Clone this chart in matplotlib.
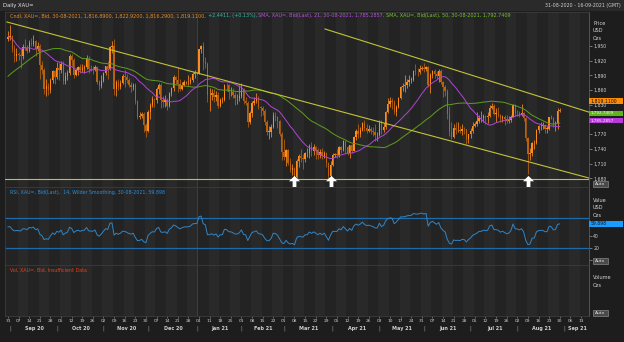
import numpy as np
import pandas as pd
import matplotlib
matplotlib.use("Agg")
import matplotlib.pyplot as plt
from matplotlib.path import Path
from matplotlib.patches import Rectangle
from matplotlib.transforms import blended_transform_factory

plt.rcParams['font.family'] = ['DejaVu Sans']

# ---------------- data: XAU= daily bid, 31-08-2020 .. 30-08-2021 ----------------
# closes before the first drawn bar (15-06-2020 .. 28-08-2020), used by the indicators
prior_closes = [1726, 1727, 1727, 1722, 1743, 1754, 1768, 1762, 1762, 1771,
                1772, 1781, 1770, 1775, 1772, 1784, 1795, 1809, 1803, 1799,
                1802, 1810, 1807, 1796, 1810, 1818, 1842, 1871, 1888, 1902,
                1942, 1958, 1970, 1957, 1975, 1976, 2019, 2038, 2062, 2035,
                2028, 1912, 1915, 1954, 1944, 1985, 2001, 1928, 1946, 1940,
                1928, 1908, 1953, 1929, 1964]

opens = [
    1964, 1968, 1970, 1944, 1930, 1934, 1931, 1930, 1947, 1946, 1940, 1957, 1954, 1960, 1944, 1950, 1912, 1900, 1863, 1868, 1861, 1881, 1898,
    1886, 1906, 1900, 1914, 1878, 1888, 1894, 1930, 1922, 1891, 1902, 1908, 1900, 1905, 1907, 1924, 1904, 1902, 1901, 1908, 1877, 1868,
    1879, 1894, 1909, 1904, 1948, 1951, 1862, 1877, 1866, 1874, 1889, 1887, 1880, 1871, 1866, 1871, 1838, 1805, 1807, 1812, 1788,
    1777, 1816, 1830, 1841, 1839, 1863, 1871, 1839, 1836, 1840, 1828, 1854, 1864, 1886, 1881, 1872, 1863, 1871, 1876, 1876, 1877, 1881, 1893,
    1895, 1895, 1943, 1950, 1918, 1913, 1849, 1850, 1855, 1845, 1851, 1828, 1840, 1840, 1871, 1870, 1856, 1856, 1850, 1843, 1843,
    1848, 1861, 1837, 1834, 1794, 1814, 1834, 1838, 1843, 1826, 1824, 1818, 1794, 1775, 1775, 1784, 1808, 1806, 1796, 1770,
    1734, 1723, 1738, 1712, 1697, 1700, 1683, 1716, 1726, 1722, 1719, 1731, 1731, 1745, 1736, 1744, 1737, 1727, 1734, 1725, 1732, 1712, 1684,
    1708, 1728, 1729, 1728, 1743, 1737, 1756, 1744, 1732, 1747, 1736, 1764, 1777, 1771, 1779, 1793, 1783, 1777, 1780, 1777, 1774, 1768,
    1768, 1792, 1779, 1785, 1815, 1831, 1837, 1836, 1815, 1826, 1844, 1867, 1869, 1870, 1877, 1881, 1881, 1898, 1897, 1896, 1903,
    1905, 1903, 1908, 1871, 1891, 1899, 1893, 1888, 1898, 1877, 1866, 1859, 1812, 1774, 1764, 1783, 1778, 1779, 1776, 1781, 1780, 1761,
    1770, 1776, 1787, 1791, 1796, 1803, 1803, 1808, 1806, 1807, 1824, 1828, 1812, 1812, 1810, 1803, 1806, 1802, 1797, 1799, 1806, 1829,
    1814, 1813, 1810, 1814, 1804, 1763, 1729, 1731, 1752, 1753, 1779, 1786, 1787, 1787, 1781, 1781, 1805, 1803, 1790, 1792, 1816.89,
]
highs = [
    1980, 1992, 1972, 1953, 1946, 1937, 1944, 1955, 1965, 1952, 1963, 1966, 1973, 1962, 1959, 1954, 1920, 1905, 1882, 1875, 1885, 1901, 1902,
    1917, 1917, 1920, 1920, 1897, 1900, 1933, 1933, 1925, 1906, 1910, 1913, 1913, 1912, 1931, 1929, 1912, 1910, 1912, 1910, 1881, 1890,
    1897, 1910, 1919, 1951, 1960, 1965, 1880, 1882, 1880, 1892, 1900, 1893, 1884, 1876, 1875, 1875, 1840, 1815, 1816, 1815, 1793,
    1820, 1833, 1848, 1844, 1866, 1875, 1874, 1848, 1849, 1843, 1857, 1867, 1891, 1888, 1907, 1882, 1877, 1880, 1879, 1890, 1886, 1897, 1900,
    1897, 1944, 1953, 1959, 1927, 1917, 1865, 1863, 1862, 1859, 1856, 1843, 1845, 1873, 1875, 1872, 1867, 1865, 1856, 1852, 1870,
    1875, 1865, 1845, 1837, 1817, 1838, 1845, 1855, 1848, 1828, 1827, 1822, 1798, 1786, 1790, 1815, 1816, 1807, 1799, 1774,
    1760, 1740, 1739, 1721, 1710, 1703, 1719, 1729, 1739, 1730, 1734, 1741, 1749, 1755, 1749, 1746, 1741, 1739, 1741, 1736, 1734, 1713, 1716,
    1731, 1732, 1740, 1746, 1745, 1758, 1757, 1745, 1748, 1749, 1766, 1781, 1790, 1785, 1795, 1798, 1790, 1789, 1784, 1785, 1790, 1774,
    1798, 1799, 1792, 1818, 1843, 1845, 1844, 1839, 1829, 1846, 1869, 1874, 1890, 1882, 1890, 1887, 1900, 1913, 1905, 1912, 1909,
    1916, 1910, 1909, 1894, 1902, 1903, 1899, 1903, 1904, 1878, 1871, 1863, 1828, 1795, 1791, 1795, 1795, 1787, 1791, 1785, 1781, 1771,
    1782, 1795, 1795, 1815, 1809, 1818, 1812, 1809, 1816, 1829, 1834, 1831, 1823, 1825, 1812, 1810, 1809, 1809, 1807, 1810, 1832, 1831,
    1820, 1818, 1832, 1815, 1806, 1764, 1741, 1754, 1758, 1781, 1788, 1795, 1794, 1790, 1787, 1806, 1809, 1805, 1796, 1823, 1822.92,
]
lows = [
    1960, 1962, 1937, 1917, 1920, 1922, 1906, 1924, 1942, 1935, 1937, 1950, 1950, 1930, 1940, 1882, 1892, 1853, 1848, 1850, 1854, 1875, 1872,
    1882, 1880, 1895, 1873, 1873, 1881, 1891, 1910, 1885, 1888, 1890, 1895, 1897, 1895, 1904, 1895, 1898, 1893, 1898, 1872, 1860, 1865,
    1877, 1890, 1882, 1902, 1936, 1850, 1848, 1861, 1862, 1872, 1866, 1875, 1866, 1856, 1860, 1831, 1800, 1800, 1803, 1775, 1764,
    1774, 1802, 1826, 1826, 1834, 1853, 1823, 1826, 1825, 1820, 1826, 1848, 1859, 1872, 1857, 1858, 1860, 1868, 1873, 1870, 1872, 1876, 1885,
    1893, 1893, 1935, 1902, 1906, 1836, 1817, 1840, 1836, 1837, 1823, 1826, 1833, 1838, 1858, 1842, 1848, 1844, 1830, 1832, 1838,
    1843, 1831, 1830, 1785, 1791, 1805, 1830, 1834, 1822, 1808, 1810, 1789, 1769, 1760, 1764, 1782, 1796, 1782, 1767, 1717,
    1718, 1705, 1708, 1692, 1687, 1677, 1680, 1703, 1714, 1699, 1713, 1723, 1721, 1725, 1727, 1720, 1719, 1722, 1719, 1721, 1704, 1677, 1678,
    1705, 1723, 1721, 1723, 1731, 1735, 1731, 1727, 1722, 1731, 1735, 1759, 1762, 1765, 1776, 1777, 1772, 1775, 1770, 1766, 1756, 1757,
    1766, 1770, 1774, 1781, 1813, 1826, 1822, 1812, 1808, 1824, 1841, 1858, 1856, 1865, 1869, 1875, 1879, 1891, 1889, 1893, 1900,
    1897, 1898, 1867, 1855, 1885, 1885, 1882, 1877, 1872, 1845, 1848, 1802, 1767, 1761, 1762, 1771, 1774, 1773, 1768, 1770, 1750, 1751,
    1763, 1772, 1785, 1786, 1793, 1795, 1795, 1791, 1792, 1805, 1821, 1809, 1794, 1806, 1794, 1795, 1789, 1792, 1792, 1795, 1805, 1807,
    1807, 1805, 1808, 1796, 1757, 1688, 1717, 1725, 1740, 1749, 1772, 1779, 1780, 1772, 1773, 1779, 1801, 1785, 1776, 1781, 1816.29,
]
closes = [
    1968, 1970, 1944, 1930, 1934, 1931, 1930, 1947, 1946, 1940, 1957, 1954, 1960, 1944, 1950, 1912, 1900, 1863, 1868, 1861, 1881, 1898, 1886,
    1906, 1900, 1914, 1878, 1888, 1894, 1930, 1922, 1891, 1902, 1908, 1900, 1905, 1907, 1924, 1904, 1902, 1901, 1908, 1877, 1868, 1879,
    1894, 1909, 1904, 1948, 1951, 1862, 1877, 1866, 1874, 1889, 1887, 1880, 1871, 1866, 1871, 1838, 1805, 1807, 1812, 1788, 1777,
    1816, 1830, 1841, 1839, 1863, 1871, 1839, 1836, 1840, 1828, 1854, 1864, 1886, 1881, 1872, 1863, 1871, 1876, 1876, 1877, 1881, 1893, 1895,
    1895, 1943, 1950, 1918, 1913, 1849, 1850, 1855, 1845, 1851, 1828, 1840, 1840, 1871, 1870, 1856, 1856, 1850, 1843, 1843, 1848,
    1861, 1837, 1834, 1794, 1814, 1834, 1838, 1843, 1826, 1824, 1818, 1794, 1775, 1775, 1784, 1808, 1806, 1796, 1770, 1734,
    1723, 1738, 1712, 1697, 1700, 1683, 1716, 1726, 1722, 1719, 1731, 1731, 1745, 1736, 1744, 1737, 1727, 1734, 1725, 1732, 1712, 1684, 1708,
    1728, 1729, 1728, 1743, 1737, 1756, 1744, 1732, 1747, 1736, 1764, 1777, 1771, 1779, 1793, 1783, 1777, 1780, 1777, 1774, 1768, 1768,
    1792, 1779, 1785, 1815, 1831, 1837, 1836, 1815, 1826, 1844, 1867, 1869, 1870, 1877, 1881, 1881, 1898, 1897, 1896, 1903, 1905,
    1903, 1908, 1871, 1891, 1899, 1893, 1888, 1898, 1877, 1866, 1859, 1812, 1774, 1764, 1783, 1778, 1779, 1776, 1781, 1780, 1761, 1770,
    1776, 1787, 1791, 1796, 1803, 1803, 1808, 1806, 1807, 1824, 1828, 1812, 1812, 1810, 1803, 1806, 1802, 1797, 1799, 1806, 1829, 1814,
    1813, 1810, 1814, 1804, 1763, 1729, 1731, 1752, 1753, 1779, 1786, 1787, 1787, 1781, 1781, 1805, 1803, 1790, 1792, 1817, 1819.11,
]

# trend lines drawn on the price pane: (bar index, price) end points
trend_upper = ([149.4, 273.8], [1984.7, 1815.0])
trend_lower = ([-0.5, 273.8], [1999.0, 1680.5])
support_level = 1678.6
arrow_days = ['2021-03-08', '2021-03-31', '2021-08-09']

price_ticks = [1680, 1710, 1740, 1770, 1800, 1830, 1860, 1890, 1920, 1950]
rsi_bands = [20, 70]
rsi_value_label = '59.898'

header_parts = [
    ('Cndl, XAU=, Bid, 30-08-2021, 1,816.8900, 1,822.9200, 1,816.2900, 1,819.1100,', '#ec8a22'),
    ('+2.4411, (+0.13%),', '#2cbfa8'),
    ('SMA, XAU=, Bid(Last), 21, 30-08-2021, 1,785.2857,', '#b84ee0'),
    ('SMA, XAU=, Bid(Last), 50, 30-08-2021, 1,792.7409', '#72c323'),
]

# ---------------- style ----------------
BG = '#1d1d1d'
PANEL = '#232323'
STRIPE = '#292929'
EDGE = '#3c3c3c'
TXT = '#cfcfcf'
UP = '#ff8c1a'
DN = '#b8620f'
SMA21_C = '#b044d8'
SMA50_C = '#5e9e1c'
TREND_C = '#c2c236'
RSI_C = '#2f86c8'
BAND_C = '#1f6aa8'

W, H = 624, 342
fig = plt.figure(figsize=(W / 100, H / 100), dpi=100, facecolor=BG)


def fx(px):
    return px / W


def fy(py):
    return 1 - py / H


LEFT, RIGHT = 5, 589
PX_PER_BAR = 2.122
X0 = (LEFT - 8) / PX_PER_BAR
X1 = (RIGHT - 8) / PX_PER_BAR

dates = pd.bdate_range('2020-08-31', '2021-09-17')
n = len(closes)
xs = np.arange(n)
mondays = [i for i, d in enumerate(dates) if d.weekday() == 0 and i <= X1]
jan1 = int(np.where(dates == pd.Timestamp('2021-01-01'))[0][0])


def add_panel(top, bottom):
    ax = fig.add_axes([fx(LEFT), fy(bottom), (RIGHT - LEFT) / W, (bottom - top) / H])
    ax.set_facecolor(PANEL)
    for s in ax.spines.values():
        s.set_color(EDGE)
        s.set_linewidth(0.6)
    ax.spines['right'].set_color('#5a5a5a')
    ax.set_xlim(X0, X1)
    for k, m in enumerate(mondays):
        if k % 2 == 1:
            ax.axvspan(m - 0.5, m + 4.5, color=STRIPE, lw=0, zorder=0)
    ax.axvline(jan1, color='#3e3e3e', lw=0.7, zorder=0.5)
    ax.tick_params(axis='x', length=0, labelbottom=False)
    return ax


ax_p = add_panel(12, 187)
ax_r = add_panel(187, 265)
ax_v = add_panel(265, 316)

# ---------------- price pane ----------------
o = np.array(opens, float)
h = np.array(highs, float)
l = np.array(lows, float)
c = np.array(closes, float)
up = c >= o
cols = np.where(up, UP, DN)
ax_p.vlines(xs, l, h, colors=cols, lw=0.55, zorder=2)
ax_p.bar(xs, np.maximum(np.abs(c - o), 0.8), bottom=np.minimum(o, c), width=0.62,
         color=cols, lw=0, zorder=2)

full = pd.Series(prior_closes + closes, dtype=float)
k0 = len(prior_closes)
sma21 = full.rolling(21).mean().iloc[k0:].to_numpy()
sma50 = full.rolling(50).mean().iloc[k0:].to_numpy()
ax_p.plot(xs, sma50, color=SMA50_C, lw=0.7, zorder=3)
ax_p.plot(xs, sma21, color=SMA21_C, lw=0.7, zorder=3)

ax_p.plot(*trend_upper, color=TREND_C, lw=0.8, zorder=4)
ax_p.plot(*trend_lower, color=TREND_C, lw=0.8, zorder=4)
ax_p.axhline(support_level, color=TREND_C, lw=0.8, zorder=4)

ax_p.set_ylim(1662.2, 2019.4)
ax_p.yaxis.tick_right()
ax_p.set_yticks(price_ticks)
# the 1,800 label sits under the moving-average value boxes
ax_p.set_yticklabels(['' if v == 1800 else f'{v:,}' for v in price_ticks])
ax_p.tick_params(axis='y', colors='#9a9a9a', labelcolor=TXT, length=2, width=0.5,
                 labelsize=3.3, pad=1)

arrow = Path([(0, 0.5), (0.5, 0.02), (0.17, 0.02), (0.17, -0.5), (-0.17, -0.5),
              (-0.17, 0.02), (-0.5, 0.02), (0, 0.5)],
             [Path.MOVETO] + [Path.LINETO] * 6 + [Path.CLOSEPOLY])
arrow_x = [int(np.where(dates == pd.Timestamp(d))[0][0]) for d in arrow_days]
ax_p.plot(arrow_x, [0.032] * len(arrow_x), linestyle='none', marker=arrow, markersize=8,
          color='white', markeredgewidth=0,
          transform=blended_transform_factory(ax_p.transData, ax_p.transAxes),
          clip_on=False, zorder=10)

# ---------------- RSI pane (14, Wilder smoothing) ----------------
delta = full.diff()
gain = delta.clip(lower=0).ewm(alpha=1 / 14, adjust=False).mean()
loss = (-delta.clip(upper=0)).ewm(alpha=1 / 14, adjust=False).mean()
rsi = (100 - 100 / (1 + gain / loss)).iloc[k0:].to_numpy()
for b in rsi_bands:
    ax_r.axhline(b, color=BAND_C, lw=0.9, zorder=1)
ax_r.plot(xs, rsi, color=RSI_C, lw=0.7, zorder=3)
ax_r.set_ylim(-7.4, 120.5)
ax_r.yaxis.tick_right()
ax_r.set_yticks([0, 20, 40])
ax_r.set_yticklabels(['', '20', '40'])
ax_r.tick_params(axis='y', colors='#9a9a9a', labelcolor=TXT, length=2, width=0.5,
                 labelsize=3.3, pad=1)

# ---------------- volume pane ----------------
ax_v.set_yticks([])
ax_v.set_xticks(mondays)
ax_v.tick_params(axis='x', length=1.3, width=0.5, colors='#8a8a8a', labelbottom=False)

# ---------------- date axis labels ----------------
tr = blended_transform_factory(ax_v.transData, fig.transFigure)
for m in mondays:
    fig.text(m, fy(320.7), dates[m].strftime('%d'), transform=tr, ha='center', va='center',
             fontsize=3.2, color=TXT)

month_first = {}
month_last = {}
for i, d in enumerate(dates):
    if i > X1:
        break
    key = (d.year, d.month)
    month_first.setdefault(key, i)
    month_last[key] = i
for key, i0 in month_first.items():
    if key == (2020, 8):
        continue
    fig.text(i0, fy(328.3), '|', transform=tr, ha='center', va='center', fontsize=3.6,
             color='#a0a0a0')
    mid = (i0 + month_last[key]) / 2
    lab = pd.Timestamp(year=key[0], month=key[1], day=1).strftime('%b %y')
    fig.text(mid + 0.8, fy(328.3), lab, transform=tr, ha='center', va='center',
             fontsize=3.5, fontweight='bold', color=TXT)

# ---------------- frame, titles and side labels ----------------
fig.patches.append(Rectangle((0, fy(11)), 1, 11 / H, transform=fig.transFigure,
                             facecolor='#2a2a2a', edgecolor='none', zorder=-1))
fig.text(fx(3), fy(5.5), 'Daily XAU=', fontsize=3.8, color='#e8e8e8', ha='left', va='center')
fig.text(fx(621), fy(5.5), '31-08-2020 - 16-09-2021 (GMT)', fontsize=3.4, color=TXT,
         ha='right', va='center')

renderer = fig.canvas.get_renderer()


def text_run(x_px, y_px, parts, size):
    gap = size * 1.389 * 0.36
    for s, col in parts:
        t = fig.text(fx(x_px), fy(y_px), s, color=col, fontsize=size, ha='left', va='center')
        x_px += t.get_window_extent(renderer).width + gap


text_run(10, 15.8, header_parts, 3.5)
text_run(10, 192.3, [('RSI, XAU=, Bid(Last),  14, Wilder Smoothing, 30-08-2021, ' + rsi_value_label,
                      '#2b8fd9')], 3.45)
text_run(10, 270, [('Vol, XAU=, Bid, Insufficient Data', '#e0441e')], 3.45)

for y_px, s in [(23.5, 'Price'), (31, 'USD'), (38.5, 'Ozs'),
                (200, 'Value'), (207.7, 'USD'), (215.2, 'Ozs'),
                (277.7, 'Volume'), (285.2, 'Ozs')]:
    fig.text(fx(593), fy(y_px), s, fontsize=3.6, color='#d6d6d6', ha='left', va='center')


def value_box(y0, y1, s, face, fg, size=3.3):
    fig.patches.append(Rectangle((fx(589), fy(y1)), 33.5 / W, (y1 - y0) / H,
                                 transform=fig.transFigure, facecolor=face,
                                 edgecolor='none', zorder=5))
    fig.text(fx(590.5), fy((y0 + y1) / 2), s, fontsize=size, color=fg, ha='left',
             va='center', zorder=6)


value_box(98.2, 103.6, f'{closes[-1]:,.4f}', '#ff8c00', '#101010')
value_box(110.6, 116.4, '1,792.7409', '#5fb41c', '#f2f2f2', 3.0)
value_box(117.6, 123.4, '1,785.2857', '#b53ad8', '#f2f2f2', 3.0)
value_box(221.0, 226.8, rsi_value_label, '#1a9cff', '#0c1a2a')


def auto_box(y0):
    fig.patches.append(Rectangle((fx(593), fy(y0 + 5.8)), 15 / W, 5.8 / H,
                                 transform=fig.transFigure, facecolor='#4a4a4a',
                                 edgecolor='#9a9a9a', lw=0.4, zorder=5))
    fig.text(fx(600.5), fy(y0 + 2.9), 'Auto', fontsize=3.2, color='#e0e0e0', ha='center',
             va='center', zorder=6)


auto_box(180.8)
auto_box(258.2)
auto_box(309.8)

fig.savefig('out.png', dpi=100, facecolor=BG)
